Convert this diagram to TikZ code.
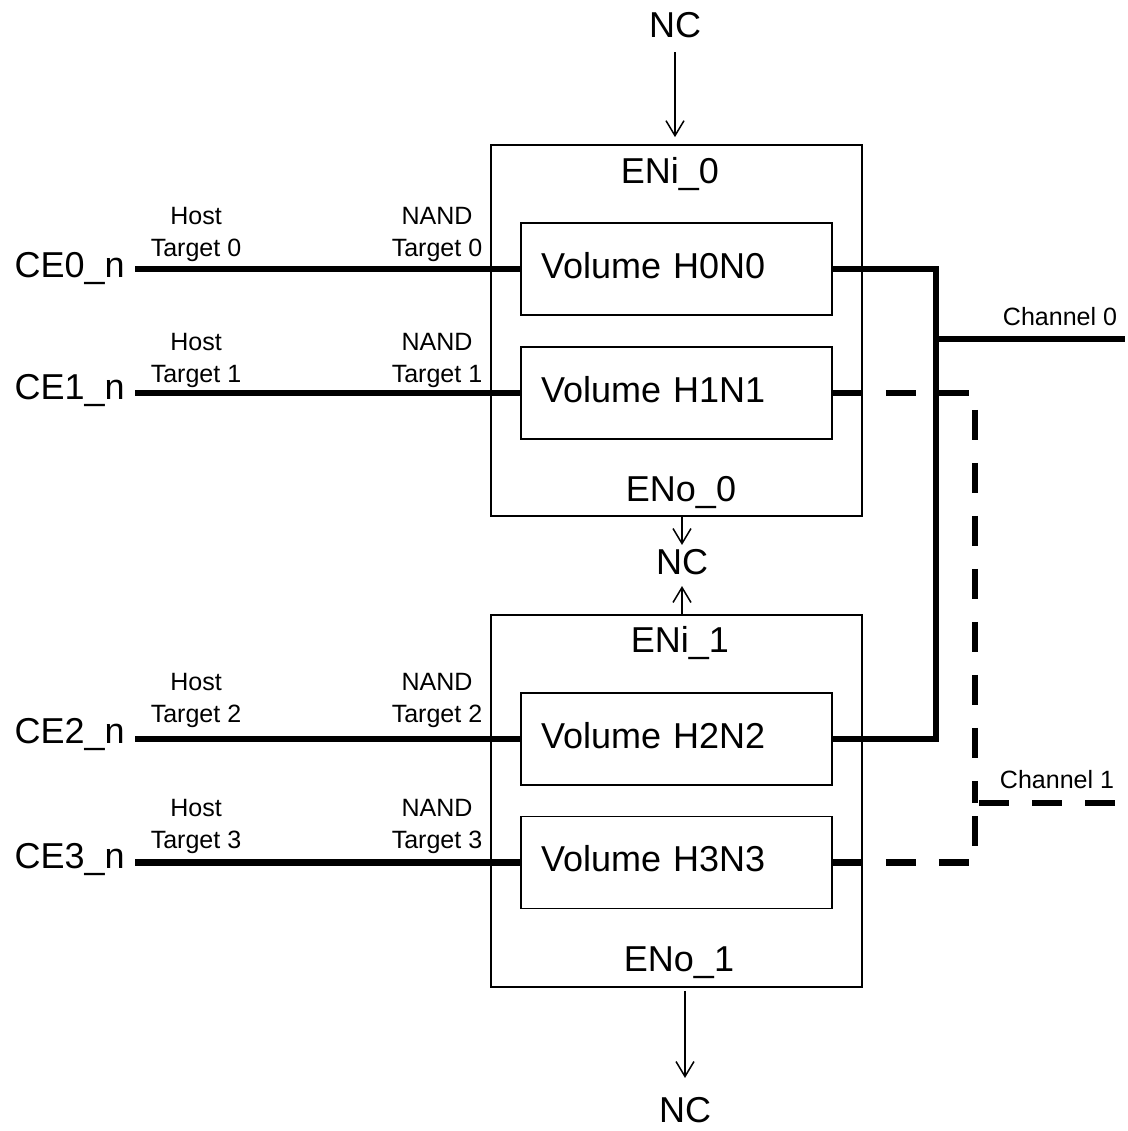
\documentclass[tikz,border=0pt]{standalone}
\usepackage{fontspec}
\setmainfont{Liberation Sans}
\usetikzlibrary{arrows.meta, positioning}
\newcommand{\pxl}{0.025cm}

\begin{document}
\begin{tikzpicture}[x=\pxl, y=-\pxl, >={Straight Barb[length=0.375cm, width=0.45cm]}]
    \tikzstyle{big} = [font=\fontsize{25.6}{30}\selectfont, inner sep=0pt]
    \tikzstyle{small} = [font=\fontsize{17.8}{22.7}\selectfont, align=center, inner sep=0pt, anchor=south]
    \tikzstyle{package} = [draw, line width=0.0425cm, minimum width=371*\pxl, minimum height=371*\pxl, inner sep=0pt]
    \tikzstyle{volume} = [draw, line width=0.0425cm, big, minimum width=311*\pxl, minimum height=92*\pxl, inner xsep=20*\pxl, text width=271*\pxl, text depth=0.2cm, align=left]
    \tikzstyle{thin} = [line width=0.0375cm]
    \tikzstyle{bus} = [line width=0.17cm]
    \tikzstyle{busdash} = [line width=0.17cm, dash pattern=on 0.75cm off 0.575cm]

    \useasboundingbox (0,0) rectangle (1127,1131);

    % packages
    \node[package] (pkg0) at (676.5,330.5) {};
    \node[package, minimum height=372*\pxl] (pkg1) at (676.5,801) {};

    \node[big, anchor=base] (eni0) at (670,183) {ENi\_0};
    \node[big, anchor=base] (eno0) at (681,501) {ENo\_0};
    \node[big, anchor=base] (eni1) at (680,652) {ENi\_1};
    \node[big, anchor=base] (eno1) at (679,971) {ENo\_1};

    % volumes
    \node[volume] (vol0) at (676.5,269) {Volume H0N0};
    \node[volume] (vol1) at (676.5,393) {Volume H1N1};
    \node[volume] (vol2) at (676.5,739) {Volume H2N2};
    \node[volume] (vol3) at (676.5,862.5) {Volume H3N3};

    % chip enables
    \node[big, anchor=base east, inner xsep=10*\pxl] (ce0) at (135,277) {CE0\_n};
    \node[big, anchor=base east, inner xsep=10*\pxl] (ce1) at (135,399) {CE1\_n};
    \node[big, anchor=base east, inner xsep=10*\pxl] (ce2) at (135,743) {CE2\_n};
    \node[big, anchor=base east, inner xsep=10*\pxl] (ce3) at (135,868) {CE3\_n};

    \node[small] (host0) at (196,262) {Host\\Target 0};
    \node[small] (host1) at (196,388) {Host\\Target 1};
    \node[small] (host2) at (196,728) {Host\\Target 2};
    \node[small] (host3) at (196,854) {Host\\Target 3};

    \node[small] (nand0) at (437,262) {NAND\\Target 0};
    \node[small] (nand1) at (437,388) {NAND\\Target 1};
    \node[small] (nand2) at (437,728) {NAND\\Target 2};
    \node[small] (nand3) at (437,854) {NAND\\Target 3};

    \draw[bus] (ce0.east |- vol0.west) -- (vol0.west);
    \draw[bus] (ce1.east |- vol1.west) -- (vol1.west);
    \draw[bus] (ce2.east |- vol2.west) -- (vol2.west);
    \draw[bus] (ce3.east |- vol3.west) -- (vol3.west);

    % NC pins
    \node[big, inner sep=4*\pxl] (nc0) at (675,25) {NC};
    \node[big, inner sep=4*\pxl] (nc1) at (682,562) {NC};
    \node[big, inner sep=4*\pxl] (nc2) at (685,1110) {NC};

    \draw[thin, ->, shorten <=0.25cm, shorten >=0.175cm] (nc0) -- (nc0 |- pkg0.north);
    \draw[thin, ->] (nc1 |- pkg0.south) -- (nc1);
    \draw[thin, ->, shorten >=0.175cm] (nc1 |- pkg1.north) -- (nc1);
    \draw[thin, ->, shorten <=0.075cm, shorten >=0.375cm] (nc2 |- pkg1.south) -- (nc2);

    % channels
    \coordinate (j0) at (936,339);
    \coordinate (ch0) at (1125,339);
    \coordinate (j1) at (975,803);
    \coordinate (ch1) at (1118,803);

    \draw[bus] (vol0.east) -- (vol0.east -| j0) -- (vol2.east -| j0) -- (vol2.east);
    \draw[bus] (j0) -- (ch0);
    \node[small, anchor=base] (ch0lab) at (1060,325) {Channel 0};

    \draw[busdash] (vol1.east) -- (vol1.east -| j1) -- (j1);
    \draw[busdash] (vol3.east) -- (vol3.east -| j1) -- (j1);
    \draw[busdash, shorten <=0.1cm] (j1) -- (ch1);
    \node[small, anchor=base] (ch1lab) at (1057,788) {Channel 1};
\end{tikzpicture}
\end{document}
